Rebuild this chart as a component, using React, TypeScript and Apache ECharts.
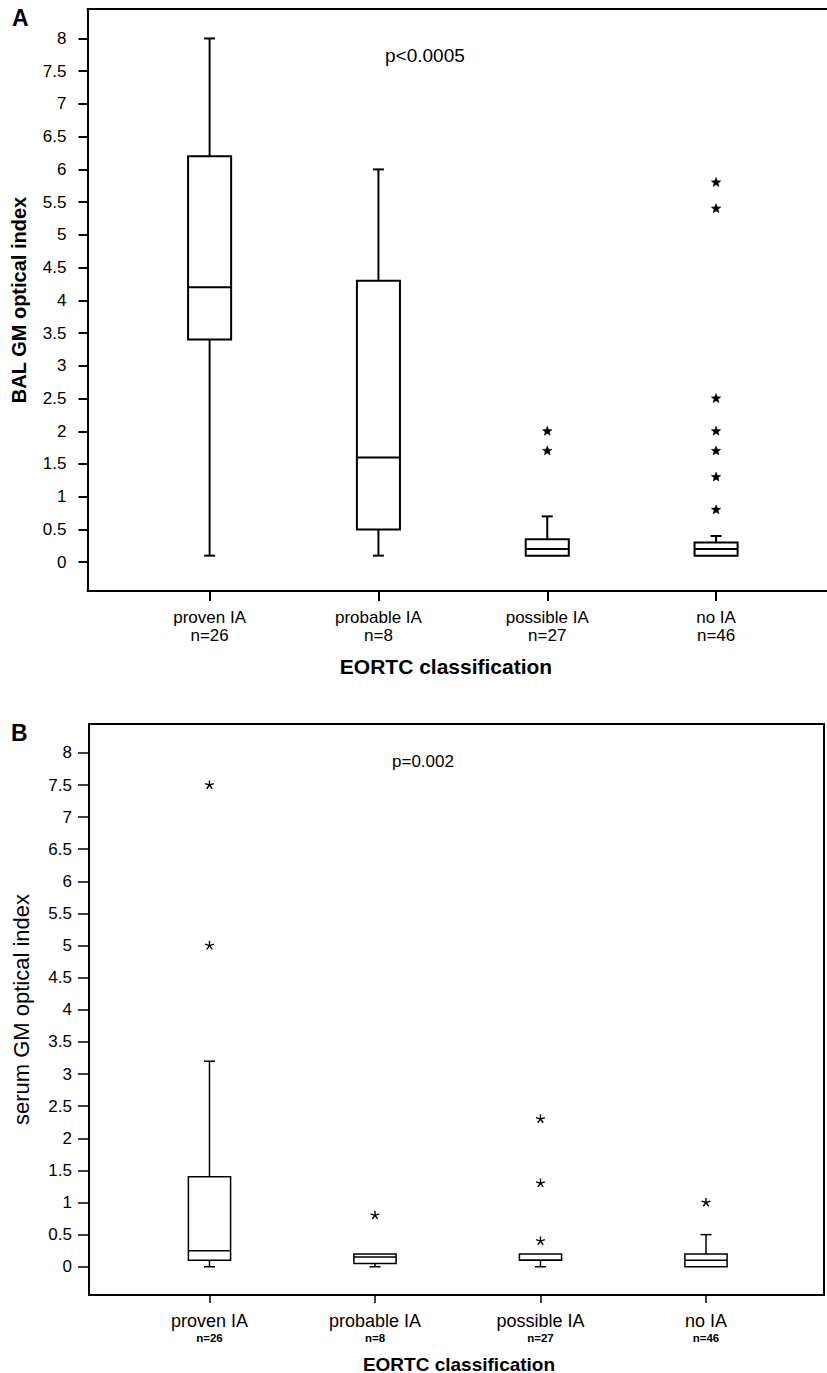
import React, { useEffect, useRef } from "react";
import * as echarts from "echarts";

const categories = ["proven IA", "probable IA", "possible IA", "no IA"];
const counts = ["n=26", "n=8", "n=27", "n=46"];
const yTicks = [0, 0.5, 1, 1.5, 2, 2.5, 3, 3.5, 4, 4.5, 5, 5.5, 6, 6.5, 7, 7.5, 8];

// Panel A: BAL GM optical index
const balMin = [0.1, 0.1, 0.1, 0.1];
const balQ1 = [3.4, 0.5, 0.1, 0.1];
const balMedian = [4.2, 1.6, 0.2, 0.2];
const balQ3 = [6.2, 4.3, 0.35, 0.3];
const balMax = [8.0, 6.0, 0.7, 0.4];
const balOutliers = [[], [], [2.0, 1.7], [5.8, 5.4, 2.5, 2.0, 1.7, 1.3, 0.8]];
const balP = "p<0.0005";

// Panel B: serum GM optical index
const serumMin = [0.0, 0.0, 0.0, 0.0];
const serumQ1 = [0.1, 0.05, 0.1, 0.0];
const serumMedian = [0.25, 0.15, 0.1, 0.1];
const serumQ3 = [1.4, 0.2, 0.2, 0.2];
const serumMax = [3.2, 0.2, 0.2, 0.5];
const serumOutliers = [[7.5, 5.0], [0.8], [2.3, 1.3, 0.4], [1.0]];
const serumP = "p=0.002";

const FONT = "'Liberation Sans', Arial, Helvetica, sans-serif";

function boxData(mn: number[], q1: number[], md: number[], q3: number[], mx: number[]) {
  return categories.map((_, i) => [i + 1, mn[i], q1[i], md[i], q3[i], mx[i]]);
}
function outlierData(o: number[][]) {
  const out: number[][] = [];
  o.forEach((vals, i) => vals.forEach((v) => out.push([i + 1, v])));
  return out;
}

function boxRenderer(lw: number, capHalf: number) {
  return (params: any, api: any) => {
    const x = api.value(0);
    const lo = api.value(1), q1 = api.value(2), md = api.value(3), q3 = api.value(4), hi = api.value(5);
    const pLo = api.coord([x, lo]);
    const pQ1 = api.coord([x, q1]);
    const pMd = api.coord([x, md]);
    const pQ3 = api.coord([x, q3]);
    const pHi = api.coord([x, hi]);
    const bw = api.size([1, 0])[0] * 0.255;
    const cx = pLo[0];
    const ls = { stroke: "#000", lineWidth: lw };
    const children: any[] = [];
    if (hi > q3) {
      children.push({ type: "line", shape: { x1: cx, y1: pQ3[1], x2: cx, y2: pHi[1] }, style: ls });
      children.push({ type: "line", shape: { x1: cx - capHalf, y1: pHi[1], x2: cx + capHalf, y2: pHi[1] }, style: ls });
    }
    if (lo < q1) {
      children.push({ type: "line", shape: { x1: cx, y1: pQ1[1], x2: cx, y2: pLo[1] }, style: ls });
      children.push({ type: "line", shape: { x1: cx - capHalf, y1: pLo[1], x2: cx + capHalf, y2: pLo[1] }, style: ls });
    }
    children.push({
      type: "rect",
      shape: { x: cx - bw / 2, y: pQ3[1], width: bw, height: pQ1[1] - pQ3[1] },
      style: { fill: "#fff", stroke: "#000", lineWidth: lw },
    });
    children.push({ type: "line", shape: { x1: cx - bw / 2, y1: pMd[1], x2: cx + bw / 2, y2: pMd[1] }, style: ls });
    return { type: "group", children };
  };
}

function starRenderer(R: number, r: number) {
  return (params: any, api: any) => {
    const p = api.coord([api.value(0), api.value(1)]);
    const pts: number[][] = [];
    for (let k = 0; k < 10; k++) {
      const a = -Math.PI / 2 + (k * Math.PI) / 5;
      const rad = k % 2 === 0 ? R : r;
      pts.push([p[0] + rad * Math.cos(a), p[1] + rad * Math.sin(a)]);
    }
    return { type: "polygon", shape: { points: pts }, style: { fill: "#000", stroke: "#000", lineWidth: 0.6 } };
  };
}

function asteriskRenderer(R: number, lw: number) {
  return (params: any, api: any) => {
    const p = api.coord([api.value(0), api.value(1)]);
    const children: any[] = [];
    for (let k = 0; k < 5; k++) {
      const a = -Math.PI / 2 + (k * 2 * Math.PI) / 5;
      children.push({
        type: "line",
        shape: { x1: p[0], y1: p[1], x2: p[0] + R * Math.cos(a), y2: p[1] + R * Math.sin(a) },
        style: { stroke: "#000", lineWidth: lw },
      });
    }
    return { type: "group", children };
  };
}

const Y_MIN = -0.44;
const Y_MAX = 8.45;

export default function App() {
  const ref = useRef<HTMLDivElement>(null);
  useEffect(() => {
    if (!ref.current) return;
    const chart = echarts.init(ref.current, null, { renderer: "svg" });
    const borderAxis = (gridIndex: number, position: string, min: number, max: number, lw: number) => ({
      type: "value",
      gridIndex,
      position,
      min,
      max,
      axisLine: { show: true, onZero: false, lineStyle: { color: "#000", width: lw } },
      axisTick: { show: false },
      axisLabel: { show: false },
      splitLine: { show: false },
    });
    const option: any = {
      animation: false,
      backgroundColor: "#fff",
      textStyle: { fontFamily: FONT, color: "#000" },
      grid: [
        { left: 87.5, top: 9, width: 739.5, height: 582 },
        { left: 89, top: 724, width: 735, height: 571 },
      ],
      xAxis: [
        {
          type: "value",
          gridIndex: 0,
          position: "bottom",
          min: 0.2768,
          max: 4.657,
          axisLine: { show: true, onZero: false, lineStyle: { color: "#000", width: 2 } },
          axisTick: { show: true, customValues: [1, 2, 3, 4], length: 10, lineStyle: { color: "#000", width: 2 } },
          axisLabel: {
            customValues: [1, 2, 3, 4],
            margin: 17,
            formatter: (v: number) => `{a|${categories[Math.round(v) - 1]}}\n{b|${counts[Math.round(v) - 1]}}`,
            rich: {
              a: { fontSize: 17, lineHeight: 18, fontFamily: FONT, color: "#000" },
              b: { fontSize: 17, lineHeight: 18, fontFamily: FONT, color: "#000" },
            },
          },
          splitLine: { show: false },
        },
        borderAxis(0, "top", 0.2768, 4.657, 2),
        {
          type: "value",
          gridIndex: 1,
          position: "bottom",
          min: 0.272,
          max: 4.713,
          axisLine: { show: true, onZero: false, lineStyle: { color: "#000", width: 2 } },
          axisTick: { show: true, customValues: [1, 2, 3, 4], length: 8, lineStyle: { color: "#000", width: 1.5 } },
          axisLabel: {
            customValues: [1, 2, 3, 4],
            margin: 16,
            formatter: (v: number) => `{a|${categories[Math.round(v) - 1]}}\n{b|${counts[Math.round(v) - 1]}}`,
            rich: {
              a: { fontSize: 18, lineHeight: 20, fontFamily: FONT, color: "#000" },
              b: { fontSize: 11.5, lineHeight: 14, fontWeight: "bold", fontFamily: FONT, color: "#000" },
            },
          },
          splitLine: { show: false },
        },
        borderAxis(1, "top", 0.272, 4.713, 2),
      ],
      yAxis: [
        {
          type: "value",
          gridIndex: 0,
          position: "left",
          min: Y_MIN,
          max: Y_MAX,
          name: "BAL GM optical index",
          nameLocation: "middle",
          nameRotate: 90,
          nameGap: 59,
          nameTextStyle: { fontSize: 20, fontWeight: "bold", fontFamily: FONT, color: "#000" },
          axisLine: { show: true, onZero: false, lineStyle: { color: "#000", width: 2 } },
          axisTick: { show: true, customValues: yTicks, length: 9, lineStyle: { color: "#000", width: 2 } },
          axisLabel: { customValues: yTicks, margin: 21, fontSize: 17, fontFamily: FONT, color: "#000" },
          splitLine: { show: false },
        },
        {
          type: "value",
          gridIndex: 1,
          position: "left",
          min: Y_MIN,
          max: Y_MAX,
          name: "serum GM optical index",
          nameLocation: "middle",
          nameRotate: 90,
          nameGap: 57,
          nameTextStyle: { fontSize: 22, fontFamily: FONT, color: "#000" },
          axisLine: { show: true, onZero: false, lineStyle: { color: "#000", width: 2 } },
          axisTick: { show: true, customValues: yTicks, length: 11, lineStyle: { color: "#000", width: 1.5 } },
          axisLabel: { customValues: yTicks, margin: 17, fontSize: 17, fontFamily: FONT, color: "#000" },
          splitLine: { show: false },
        },
        borderAxis(1, "right", Y_MIN, Y_MAX, 2),
      ],
      series: [
        {
          type: "custom",
          xAxisIndex: 0,
          yAxisIndex: 0,
          renderItem: boxRenderer(2, 5.5),
          encode: { x: 0, y: [1, 2, 3, 4, 5] },
          data: boxData(balMin, balQ1, balMedian, balQ3, balMax),
        },
        {
          type: "custom",
          xAxisIndex: 0,
          yAxisIndex: 0,
          renderItem: starRenderer(4.9, 2.1),
          encode: { x: 0, y: 1 },
          data: outlierData(balOutliers),
        },
        {
          type: "custom",
          xAxisIndex: 2,
          yAxisIndex: 1,
          renderItem: boxRenderer(1.5, 5.5),
          encode: { x: 0, y: [1, 2, 3, 4, 5] },
          data: boxData(serumMin, serumQ1, serumMedian, serumQ3, serumMax),
        },
        {
          type: "custom",
          xAxisIndex: 2,
          yAxisIndex: 1,
          renderItem: asteriskRenderer(4.6, 1.4),
          encode: { x: 0, y: 1 },
          data: outlierData(serumOutliers),
        },
      ],
      graphic: [
        { type: "text", x: 12, y: 18, style: { text: "A", font: `bold 23px ${FONT}`, fill: "#000", verticalAlign: "middle" } },
        { type: "text", x: 11, y: 733, style: { text: "B", font: `bold 23px ${FONT}`, fill: "#000", verticalAlign: "middle" } },
        { type: "text", x: 385, y: 55, style: { text: balP, font: `19px ${FONT}`, fill: "#000", verticalAlign: "middle" } },
        { type: "text", x: 392, y: 761, style: { text: serumP, font: `17px ${FONT}`, fill: "#000", verticalAlign: "middle" } },
        { type: "text", x: 446, y: 666, style: { text: "EORTC classification", font: `bold 21px ${FONT}`, fill: "#000", align: "center", verticalAlign: "middle" } },
        { type: "text", x: 459, y: 1364, style: { text: "EORTC classification", font: `bold 19px ${FONT}`, fill: "#000", align: "center", verticalAlign: "middle" } },
      ],
    };
    chart.setOption(option);
    return () => chart.dispose();
  }, []);
  return <div ref={ref} style={{ position: "absolute", left: 0, top: 0, width: 827, height: 1373 }} />;
}
